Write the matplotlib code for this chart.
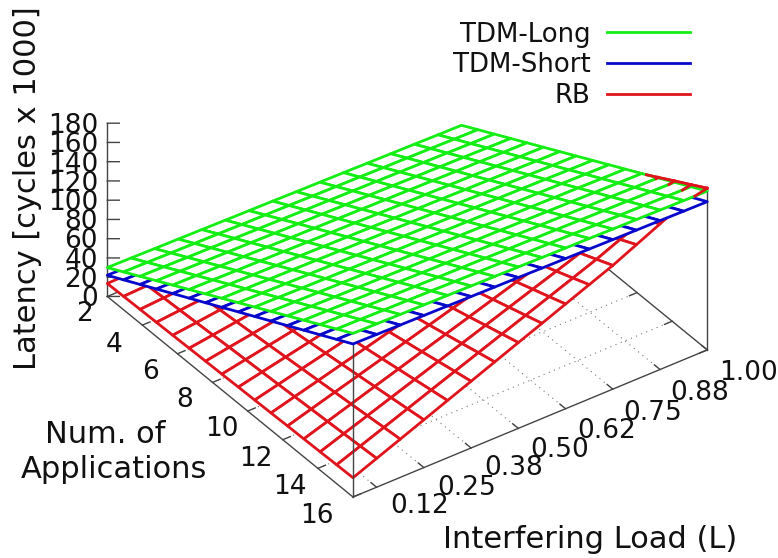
import numpy as np
import matplotlib
matplotlib.use('Agg')
import matplotlib.pyplot as plt
from matplotlib.lines import Line2D
from mpl_toolkits.mplot3d import proj3d

# ---- data ----
apps = [2.0, 2.93, 3.87, 4.8, 5.73, 6.67, 7.6, 8.53, 9.47, 10.4, 11.33, 12.27, 13.2, 14.13, 15.07, 16.0]
load = [0.0625, 0.125, 0.1875, 0.25, 0.3125, 0.375, 0.4375, 0.5, 0.5625, 0.625, 0.6875, 0.75, 0.8125, 0.875, 0.9375, 1.0]
tdm_long_by_apps = [30, 39.3, 48.7, 58, 67.3, 76.7, 86, 95.3, 104.7, 114, 123.3, 132.7, 142, 151.3, 160.7, 170]
tdm_short_by_apps = [22, 31.1, 40.3, 49.4, 58.5, 67.7, 76.8, 85.9, 95.1, 104.2, 113.3, 122.5, 131.6, 140.7, 149.9, 159]
tdm_drop_by_load = [0, .3, .7, 1, 1.3, 1.7, 2, 2.3, 2.7, 3, 3.3, 3.7, 4, 4.3, 4.7, 5]
rb = [
 [13.5, 13.9, 14.4, 14.8, 15.2, 15.7, 16.1, 16.5, 17.0, 17.4, 17.8, 18.3, 18.7, 19.1, 19.6, 20.0],
 [13.9, 15.0, 16.0, 17.1, 18.1, 19.2, 20.3, 21.3, 22.4, 23.4, 24.5, 25.6, 26.6, 27.7, 28.7, 29.8],
 [14.4, 16.1, 17.7, 19.4, 21.1, 22.8, 24.4, 26.1, 27.8, 29.5, 31.1, 32.8, 34.5, 36.1, 37.8, 39.5],
 [14.8, 17.1, 19.4, 21.7, 24.0, 26.3, 28.6, 30.9, 33.2, 35.5, 37.8, 40.1, 42.4, 44.7, 47.0, 49.3],
 [15.2, 18.1, 21.1, 24.0, 26.9, 29.8, 32.8, 35.7, 38.6, 41.5, 44.5, 47.4, 50.3, 53.3, 56.2, 59.1],
 [15.7, 19.2, 22.8, 26.3, 29.9, 33.4, 37.0, 40.5, 44.1, 47.6, 51.2, 54.7, 58.3, 61.8, 65.4, 68.9],
 [16.1, 20.3, 24.4, 28.6, 32.8, 36.9, 41.1, 45.3, 49.4, 53.6, 57.8, 61.9, 66.1, 70.3, 74.4, 78.6],
 [16.5, 21.3, 26.1, 30.9, 35.7, 40.5, 45.3, 50.1, 54.8, 59.6, 64.4, 69.2, 74.0, 78.8, 83.6, 88.4],
 [17.0, 22.4, 27.8, 33.2, 38.7, 44.1, 49.5, 54.9, 60.3, 65.7, 71.1, 76.5, 82.0, 87.4, 92.8, 98.2],
 [17.4, 23.4, 29.5, 35.5, 41.6, 47.6, 53.6, 59.7, 65.7, 71.8, 77.8, 83.8, 89.9, 95.9, 102.0, 108.0],
 [17.8, 24.5, 31.1, 37.8, 44.4, 51.1, 57.8, 64.4, 71.1, 77.7, 84.4, 91.1, 97.7, 104.4, 111.0, 117.7],
 [18.3, 25.6, 32.9, 40.1, 47.4, 54.7, 62.0, 69.3, 76.5, 83.8, 91.1, 98.4, 106.3, 114.1, 122.0, 127.5],
 [18.7, 26.6, 34.5, 42.5, 50.4, 58.3, 66.2, 74.1, 82.1, 90.0, 97.9, 105.8, 114.5, 123.2, 131.9, 137.5],
 [19.1, 27.7, 36.2, 44.8, 53.4, 62.0, 70.5, 79.1, 87.7, 96.3, 104.8, 113.4, 123.0, 132.5, 142.0, 147.7],
 [19.6, 28.8, 38.0, 47.2, 56.5, 65.7, 74.9, 84.1, 93.3, 102.5, 111.7, 121.0, 131.4, 141.8, 152.3, 157.8],
 [20.0, 29.9, 39.7, 49.6, 59.5, 69.3, 79.2, 89.1, 98.9, 108.8, 118.7, 128.5, 139.9, 151.3, 162.6, 168.0],
]
series_names = ['TDM-Long', 'TDM-Short', 'RB']
z_ticks = [0, 20, 40, 60, 80, 100, 120, 140, 160, 180]
app_ticks = [2, 4, 6, 8, 10, 12, 14, 16]
load_ticks = [0.125, 0.25, 0.375, 0.5, 0.625, 0.75, 0.875, 1.0]
load_tick_labels = ['0.12', '0.25', '0.38', '0.50', '0.62', '0.75', '0.88', '1.00']

# ---- style / layout ----
W, H = 778, 558
C_G, C_B, C_R = '#14ee14', '#0808cc', '#e0141c'
C_AX = '#444444'
LW = 2.0
TICK_FS = 19
LAT_FS, TITLE_FS, LEG_FS = 22, 22, 18.7
TXT = '#111111'
app_label_px = [(84, 314), (114, 345), (150, 372), (185, 400), (222, 429), (256, 459), (290, 487), (317, 516)]
load_label_px = [(420, 506), (467, 488), (514, 468), (560, 450), (607, 431), (653, 413), (700, 393), (749, 373)]

fx = lambda px: px / W
fy = lambda py: 1 - py / H

fig = plt.figure(figsize=(W / 100, H / 100), dpi=100, facecolor='white')
side = 900.0
ax = fig.add_axes([0, 0, side / W, side / H], projection='3d', computed_zorder=False, proj_type='ortho')
ax.view_init(elev=35.6, azim=-35.5)
ax.set_box_aspect((423, 435, 213), zoom=1.0)
ax.set_xlim(min(apps), max(apps), view_margin=0)
ax.set_ylim(min(load), max(load), view_margin=0)
ax.set_zlim(0, 180, view_margin=0)
ax.set_axis_off()
ax.patch.set_alpha(0)


def to_px(x, y, z):
    fig.canvas.draw()
    xs, ys, _ = proj3d.proj_transform(x, y, z, ax.get_proj())
    p = ax.transData.transform((xs, ys))
    return p[0], H - p[1]


# place the box on the reference's corners
for _ in range(3):
    x0, _y0 = to_px(2, min(load), 0)
    x1, _y1 = to_px(16, 1.0, 0)
    side *= (707 - 107) / (x1 - x0)
    pos = ax.get_position(original=True)
    ax.set_position([pos.x0, pos.y0, side / W, side / H])
    cx, cy = to_px(16, min(load), 0)
    ax.set_position([pos.x0 + (353 - cx) / W, pos.y0 - (497 - cy) / H, side / W, side / H])

L0, L1, N0, N1 = min(load), 1.0, 2.0, 16.0
X, Y = np.meshgrid(apps, load, indexing='ij')
Zg = np.array(tdm_long_by_apps)[:, None] - np.array(tdm_drop_by_load)[None, :]
Zb = np.array(tdm_short_by_apps)[:, None] - np.array(tdm_drop_by_load)[None, :]
Zr = np.array(rb)

# base frame
lkw = dict(color=C_AX, lw=1.0, zorder=1)
ax.plot([N0, N1], [L0, L0], [0, 0], **lkw)
ax.plot([N1, N1], [L0, L1], [0, 0], **lkw)
ax.plot([N0, N1], [L1, L1], [0, 0], **lkw)
ax.plot([N0, N0], [L0, L1], [0, 0], **lkw)
ax.plot([N0, N0], [L0, L0], [0, 180], **lkw)
gkw = dict(color='#777777', lw=0.8, ls=(0, (1, 4)), zorder=0.5)
for t in load_ticks[:-1]:
    ax.plot([N0, N1], [t, t], [0, 0], **gkw)
for n in app_ticks[1:-1]:
    ax.plot([n, n], [L0, L1], [0, 0], **gkw)
TL, TN = 0.02, 0.32
for t in load_ticks:
    ax.plot([N1, N1 - TN], [t, t], [0, 0], **lkw)
for n in app_ticks[1:]:
    ax.plot([n, n], [L0, L0 + TL], [0, 0], **lkw)
    ax.plot([n, n], [L1, L1 - TL], [0, 0], **lkw)
for z in z_ticks:
    ax.plot([N0, N0 + 0.23], [L0, L0 + 0.0211], [z, z], **lkw)

# surfaces, painted back to front
for Z, c, zo in ((Zr, C_R, 2), (Zb, C_B, 3), (Zg, C_G, 4)):
    ax.plot_surface(X, Y, Z, rstride=1, cstride=1, color='white', edgecolor=c,
                    linewidth=LW, shade=False, antialiased=True, zorder=zo)

# the vertical edges at the front and right corners
ax.plot([N1, N1], [L0, L0], [0, tdm_short_by_apps[-1]], color=C_AX, lw=1.0, zorder=2.5)
ax.plot([N1, N1], [L1, L1], [0, Zr[-1, -1]], color=C_AX, lw=1.0, zorder=2.5)


# the part of the RB surface that rises above TDM-Long
def top_segment(xs, ys, zr, zg):
    d = zr - zg
    for k in range(len(d) - 1):
        if d[k] <= 0 and d[k + 1] <= 0:
            continue
        a, b = 0.0, 1.0
        if d[k] <= 0:
            a = d[k] / (d[k] - d[k + 1])
        if d[k + 1] <= 0:
            b = d[k] / (d[k] - d[k + 1])
        px_ = [xs[k] + (xs[k + 1] - xs[k]) * u for u in (a, b)]
        py_ = [ys[k] + (ys[k + 1] - ys[k]) * u for u in (a, b)]
        pz_ = [zr[k] + (zr[k + 1] - zr[k]) * u for u in (a, b)]
        ax.plot(px_, py_, pz_, color=C_R, lw=LW, zorder=5)


for i in range(len(apps)):
    top_segment(X[i, :], Y[i, :], Zr[i, :], Zg[i, :])
for j in range(len(load)):
    top_segment(X[:, j], Y[:, j], Zr[:, j], Zg[:, j])

# tick labels
for k, z in enumerate(z_ticks):
    fig.text(fx(98), fy(299 - 19.2 * k), str(z), ha='right', va='center', fontsize=TICK_FS, color=TXT)
for n, (px_, py_) in zip(app_ticks, app_label_px):
    fig.text(fx(px_), fy(py_), str(n), ha='center', va='center', fontsize=TICK_FS, color=TXT)
for s, (px_, py_) in zip(load_tick_labels, load_label_px):
    fig.text(fx(px_), fy(py_), s, ha='center', va='center', fontsize=TICK_FS, color=TXT)

# axis titles
fig.text(fx(28), fy(188), 'Latency [cycles x 1000]', rotation=90, ha='center', va='center',
         fontsize=LAT_FS, color=TXT)
fig.text(fx(590), fy(540), 'Interfering Load (L)', ha='center', va='center', fontsize=TITLE_FS, color=TXT)
fig.text(fx(105), fy(443), 'Num. of', ha='center', va='baseline', fontsize=TITLE_FS, color=TXT)
fig.text(fx(114), fy(478), 'Applications', ha='center', va='baseline', fontsize=TITLE_FS, color=TXT)

# legend
handles = [Line2D([], [], color=c, lw=LW) for c in (C_G, C_B, C_R)]
fig.legend(handles, series_names, loc='upper right', bbox_to_anchor=(fx(690), fy(21.5)), frameon=False,
           markerfirst=False, fontsize=LEG_FS, handlelength=3.2, handletextpad=0.62, labelspacing=0.19,
           borderpad=0, borderaxespad=0, labelcolor=TXT)

fig.savefig('out.png', dpi=100, facecolor='white')
